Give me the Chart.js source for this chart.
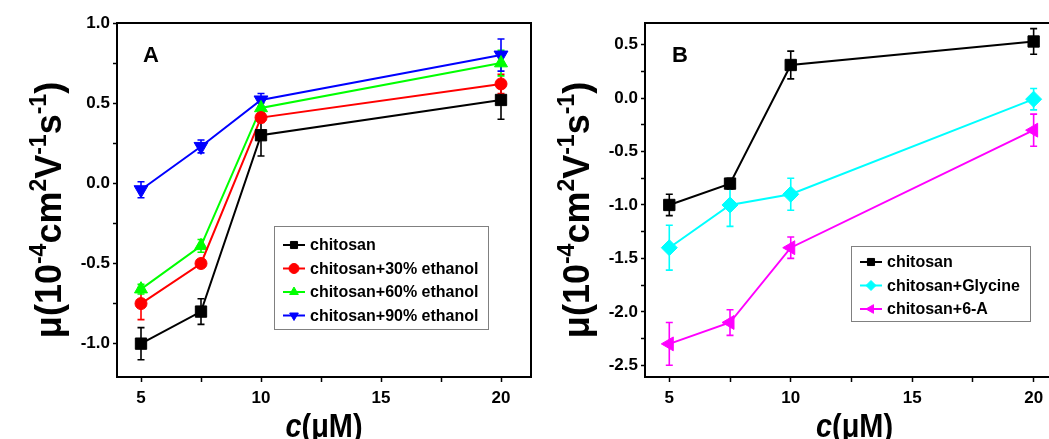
<!DOCTYPE html>
<html>
<head>
<meta charset="utf-8">
<title>chitosan mobility</title>
<script src="https://cdn.jsdelivr.net/npm/chart.js@4.4.1/dist/chart.umd.min.js"></script>
<style>
  html, body { margin: 0; padding: 0; background: #fff; width: 1049px; height: 439px; overflow: hidden; position: relative; }
  #panelA { position: absolute; left: 0; top: 0; }
  #panelB { position: absolute; left: 540px; top: 0; }
</style>
</head>
<body>
<canvas id="panelA" width="540" height="439"></canvas>
<canvas id="panelB" width="540" height="439"></canvas>
<script>
// concentration (uM)
const conc = [5, 7.5, 10, 20];
const xTicks = [5, 7.5, 10, 12.5, 15, 17.5, 20];
const xTickLabels = ['5', '', '10', '', '15', '', '20'];

// panel A - ethanol series
const chitosanA = [-1.00, -0.80, 0.30, 0.52];
const chitosanAErr = [0.10, 0.08, 0.13, 0.12];
const eth30 = [-0.75, -0.50, 0.41, 0.62];
const eth30Err = [0.10, 0.02, 0.03, 0.06];
const eth60 = [-0.66, -0.39, 0.47, 0.75];
const eth60Err = [0.03, 0.04, 0.03, 0.08];
const eth90 = [-0.04, 0.23, 0.52, 0.80];
const eth90Err = [0.05, 0.04, 0.04, 0.10];
const yTicksA = [-1.0, -0.75, -0.5, -0.25, 0.0, 0.25, 0.5, 0.75, 1.0];
const yLabelsA = ['-1.0', '', '-0.5', '', '0.0', '', '0.5', '', '1.0'];

// panel B - additives
const chitosanB = [-1.00, -0.80, 0.31, 0.53];
const chitosanBErr = [0.10, 0.05, 0.13, 0.12];
const glycine = [-1.40, -1.00, -0.90, -0.01];
const glycineErr = [0.21, 0.20, 0.15, 0.10];
const sixA = [-2.30, -2.10, -1.40, -0.30];
const sixAErr = [0.20, 0.12, 0.10, 0.15];
const yTicksB = [-2.5, -2.25, -2.0, -1.75, -1.5, -1.25, -1.0, -0.75, -0.5, -0.25, 0.0, 0.25, 0.5];
const yLabelsB = ['-2.5', '', '-2.0', '', '-1.5', '', '-1.0', '', '-0.5', '', '0.0', '', '0.5'];

const FONT = "'Liberation Sans', Arial, sans-serif";

function series(label, ys, errs, color, style, rot, radius) {
    return {
        label: label,
        data: conc.map((x, i) => ({ x: x, y: ys[i] })),
        errors: errs,
        borderColor: color,
        backgroundColor: color,
        pointBackgroundColor: color,
        pointBorderColor: color,
        pointStyle: style,
        pointRotation: rot,
        pointRadius: radius,
        pointBorderWidth: 1,
        borderWidth: 2,
        tension: 0
    };
}

// error bars, frame, titles and the boxed legend
const panelDecor = {
    id: 'panelDecor',
    beforeDatasetsDraw(chart) {
        const ctx = chart.ctx, xs = chart.scales.x, ys = chart.scales.y;
        chart.data.datasets.forEach(ds => {
            ctx.save();
            ctx.strokeStyle = ds.borderColor;
            ctx.lineWidth = 1.6;
            ds.data.forEach((p, j) => {
                const e = ds.errors[j];
                const px = xs.getPixelForValue(p.x);
                const y1 = ys.getPixelForValue(p.y + e);
                const y2 = ys.getPixelForValue(p.y - e);
                ctx.beginPath();
                ctx.moveTo(px, y1); ctx.lineTo(px, y2);
                ctx.moveTo(px - 3.5, y1); ctx.lineTo(px + 3.5, y1);
                ctx.moveTo(px - 3.5, y2); ctx.lineTo(px + 3.5, y2);
                ctx.stroke();
            });
            ctx.restore();
        });
    },
    afterDraw(chart, args, opts) {
        const ctx = chart.ctx, a = chart.chartArea;
        ctx.save();
        // frame
        ctx.strokeStyle = '#000';
        ctx.lineWidth = 2;
        ctx.strokeRect(a.left, a.top, a.right - a.left, a.bottom - a.top);

        // panel letter
        ctx.fillStyle = '#000';
        ctx.font = 'bold 22px ' + FONT;
        ctx.textBaseline = 'alphabetic';
        ctx.textAlign = 'left';
        ctx.fillText(opts.letter, a.left + opts.letterDx, 62);

        // y title with superscripts
        const parts = [['\u03bc(10', 0], ['-4', 1], ['cm', 0], ['2', 1], ['V', 0], ['-1', 1], ['s', 0], ['-1', 1], [')', 0]];
        const mainF = 'bold 36px ' + FONT, supF = 'bold 23px ' + FONT;
        let total = 0;
        parts.forEach(p => { ctx.font = p[1] ? supF : mainF; total += ctx.measureText(p[0]).width; });
        ctx.translate(a.left - 56, (a.top + a.bottom) / 2 + 10);
        ctx.rotate(-Math.PI / 2);
        let cx = -total / 2;
        parts.forEach(p => {
            ctx.font = p[1] ? supF : mainF;
            ctx.fillText(p[0], cx, p[1] ? -15 : 0);
            cx += ctx.measureText(p[0]).width;
        });
        ctx.setTransform(1, 0, 0, 1, 0, 0);

        // x title c(uM), c in italic
        const xMid = (a.left + a.right) / 2;
        ctx.translate(xMid, 437);
        ctx.scale(0.85, 1);
        ctx.font = 'italic bold 34px ' + FONT;
        const wc = ctx.measureText('c').width;
        ctx.font = 'bold 34px ' + FONT;
        const wr = ctx.measureText('(\u03bcM)').width;
        ctx.font = 'italic bold 34px ' + FONT;
        ctx.fillText('c', -(wc + wr) / 2, 0);
        ctx.font = 'bold 34px ' + FONT;
        ctx.fillText('(\u03bcM)', -(wc + wr) / 2 + wc, 0);
        ctx.setTransform(1, 0, 0, 1, 0, 0);

        // legend box
        const lg = opts.legend;
        ctx.strokeStyle = '#808080';
        ctx.lineWidth = 1;
        ctx.strokeRect(lg.x + 0.5, lg.y + 0.5, lg.w, lg.h);
        ctx.font = 'bold 16px ' + FONT;
        ctx.textBaseline = 'middle';
        chart.data.datasets.forEach((ds, i) => {
            const y = lg.row0 + i * lg.gap;
            ctx.strokeStyle = ds.borderColor;
            ctx.fillStyle = ds.borderColor;
            ctx.lineWidth = 2;
            ctx.beginPath();
            ctx.moveTo(lg.x + 9, y); ctx.lineTo(lg.x + 31, y);
            ctx.stroke();
            ctx.lineWidth = 1;
            Chart.helpers.drawPoint(ctx, { pointStyle: ds.pointStyle, rotation: ds.pointRotation, radius: 5, borderWidth: 1 }, lg.x + 20, y);
            ctx.fillStyle = '#000';
            ctx.fillText(ds.label, lg.x + 36, y + 1);
        });
        ctx.restore();
    }
};

function makePanel(canvasId, datasets, yMin, yMax, yTicks, yLabels, yWidth, padRight, decor) {
    return new Chart(document.getElementById(canvasId), {
        type: 'line',
        data: { datasets: datasets },
        options: {
            responsive: false,
            animation: false,
            devicePixelRatio: 1,
            layout: { padding: { top: 23, right: padRight, left: 0, bottom: 0 } },
            plugins: {
                legend: { display: false },
                tooltip: { enabled: false },
                panelDecor: decor
            },
            scales: {
                x: {
                    type: 'linear',
                    min: 4,
                    max: 21.25,
                    afterBuildTicks: s => { s.ticks = xTicks.map(v => ({ value: v })); },
                    afterFit: s => { s.height = 62; },
                    border: { display: false },
                    grid: { drawOnChartArea: false, drawTicks: true, tickLength: 5, tickColor: '#000', tickWidth: 1.5 },
                    ticks: {
                        color: '#000',
                        font: { family: FONT, size: 17, weight: 'bold' },
                        padding: 6,
                        maxRotation: 0,
                        autoSkip: false,
                        callback: (v, i) => xTickLabels[i]
                    }
                },
                y: {
                    type: 'linear',
                    min: yMin,
                    max: yMax,
                    afterBuildTicks: s => { s.ticks = yTicks.map(v => ({ value: v })); },
                    afterFit: s => { s.width = yWidth; },
                    border: { display: false },
                    grid: { drawOnChartArea: false, drawTicks: true, tickLength: 4, tickColor: '#000', tickWidth: 1.5 },
                    ticks: {
                        color: '#000',
                        font: { family: FONT, size: 17, weight: 'bold' },
                        padding: 3,
                        autoSkip: false,
                        callback: (v, i) => yLabels[i]
                    }
                }
            }
        },
        plugins: [panelDecor]
    });
}

makePanel('panelA', [
    series('chitosan', chitosanA, chitosanAErr, '#000000', 'rect', 0, 8),
    series('chitosan+30% ethanol', eth30, eth30Err, '#ff0000', 'circle', 0, 6),
    series('chitosan+60% ethanol', eth60, eth60Err, '#00ff00', 'triangle', 0, 7.5),
    series('chitosan+90% ethanol', eth90, eth90Err, '#0000ff', 'triangle', 180, 8)
], -1.208, 1.0, yTicksA, yLabelsA, 117, 8, {
    letter: 'A', letterDx: 26,
    legend: { x: 274, y: 226, w: 214, h: 103, row0: 245, gap: 23.5 }
});

makePanel('panelB', [
    series('chitosan', chitosanB, chitosanBErr, '#000000', 'rect', 0, 8),
    series('chitosan+Glycine', glycine, glycineErr, '#00ffff', 'rectRot', 0, 8),
    series('chitosan+6-A', sixA, sixAErr, '#ff00ff', 'triangle', -90, 8)
], -2.61, 0.703, yTicksB, yLabelsB, 105, 16, {
    letter: 'B', letterDx: 27,
    legend: { x: 311, y: 246, w: 179, h: 75, row0: 262, gap: 23.5 }
});
</script>
</body>
</html>
